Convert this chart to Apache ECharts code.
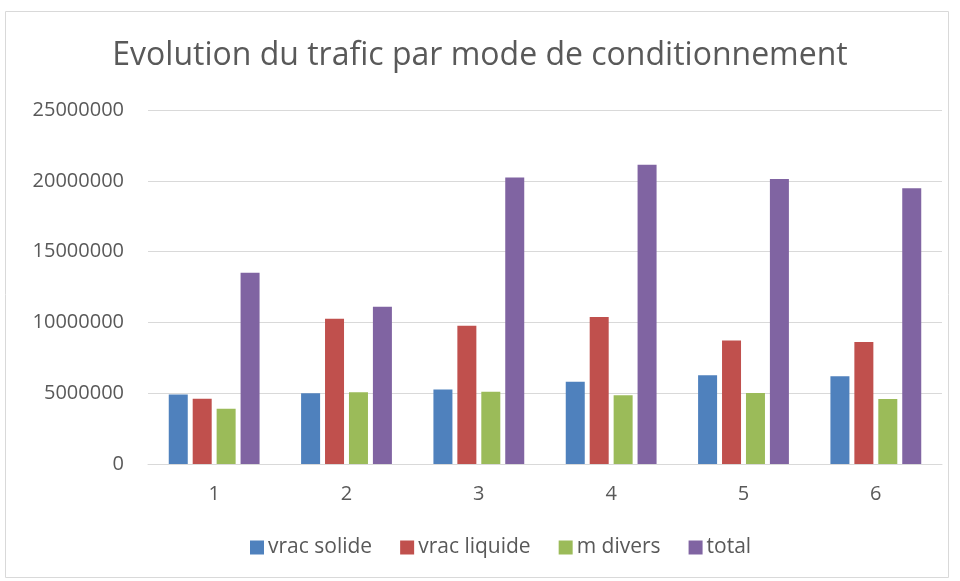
<!DOCTYPE html>
<html>
<head>
<meta charset="utf-8">
<script src="https://cdn.jsdelivr.net/npm/echarts@6/dist/echarts.min.js"></script>
<style>
html, body { margin: 0; padding: 0; background: #fff; }
#chart { width: 960px; height: 581px; }
</style>
</head>
<body>
<div id="chart"></div>
<script>
// years / groups on the x axis
let categories = ['1', '2', '3', '4', '5', '6'];
let vracSolide = [4900000, 5000000, 5270000, 5810000, 6260000, 6190000];
let vracLiquide = [4600000, 10250000, 9770000, 10380000, 8730000, 8620000];
let mDivers = [3900000, 5060000, 5100000, 4850000, 5010000, 4590000];
let total = [13500000, 11100000, 20240000, 21140000, 20130000, 19470000];

let textColor = '#595959';
let fontFamily = '"Open Sans", "Noto Sans", sans-serif';

let chart = echarts.init(document.getElementById('chart'));

let mkSeries = function(name, data, color) {
    return {
        name: name,
        type: 'bar',
        data: data,
        barWidth: 19,
        barGap: '26%',
        itemStyle: { color: color },
        emphasis: { disabled: true }
    };
};

let option = {
    animation: false,
    textStyle: { fontFamily: fontFamily },
    title: {
        text: 'Evolution du trafic par mode de conditionnement',
        left: 'center',
        top: 35,
        textStyle: {
            color: textColor,
            fontSize: 32,
            fontWeight: 'normal',
            fontFamily: fontFamily
        }
    },
    graphic: [{
        type: 'rect',
        shape: { x: 5.5, y: 11.5, width: 943, height: 566 },
        style: { fill: 'none', stroke: '#d9d9d9', lineWidth: 1 },
        silent: true
    }],
    legend: {
        bottom: 18,
        left: 245,
        itemWidth: 14,
        itemHeight: 14,
        itemGap: 28,
        icon: 'rect',
        textStyle: { color: textColor, fontSize: 21, fontFamily: fontFamily, padding: [0, 0, 0, -1] },
        data: ['vrac solide', 'vrac liquide', 'm divers', 'total']
    },
    grid: {
        left: 148,
        right: 18,
        top: 110,
        bottom: 117
    },
    xAxis: {
        type: 'category',
        data: categories,
        axisLine: { lineStyle: { color: '#d9d9d9', width: 1 } },
        axisTick: { show: false },
        axisLabel: { color: textColor, fontSize: 20, margin: 20 }
    },
    yAxis: {
        type: 'value',
        min: 0,
        max: 25000000,
        interval: 5000000,
        axisLine: { show: false },
        axisTick: { show: false },
        splitLine: { lineStyle: { color: '#d9d9d9', width: 1 } },
        axisLabel: {
            color: textColor,
            fontSize: 20,
            margin: 24,
            formatter: function(value) {
                return String(value);
            }
        }
    },
    series: [
        mkSeries('vrac solide', vracSolide, '#4f81bd'),
        mkSeries('vrac liquide', vracLiquide, '#c0504d'),
        mkSeries('m divers', mDivers, '#9bbb59'),
        mkSeries('total', total, '#8064a2')
    ]
};
chart.setOption(option);
</script>
</body>
</html>
